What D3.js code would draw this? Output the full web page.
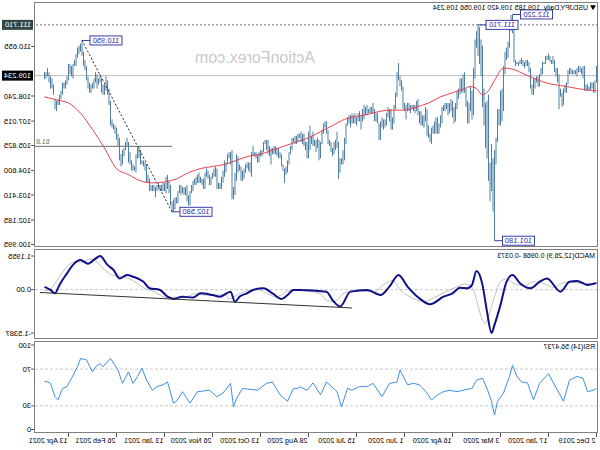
<!DOCTYPE html>
<html><head><meta charset="utf-8">
<script src="https://cdn.jsdelivr.net/npm/d3@7"></script>
<style>body{margin:0;background:#fff}svg{display:block}</style>
</head><body>
<svg id="c" width="600" height="450"></svg>
<script>
// ---------- DATA ----------
const tickBars = [0,32,64,96,128,160,192,224,256,288,320,352];
const tickLabels = ['2 Dec 2019','17 Jan 2020','3 Mar 2020','16 Apr 2020','1 Jun 2020','15 Jul 2020','28 Aug 2020','13 Oct 2020','26 Nov 2020','13 Jan 2021','26 Feb 2021','13 Apr 2021'];
const priceTicks = [110.655,108.240,107.015,105.825,104.600,103.410,102.185,100.995];
const priceLabels = ['110.655','108.240','107.015','105.825','104.600','103.410','102.185','100.995'];
const barHigh = [
109.7,109.0,108.9,108.9,108.9,108.7,108.8,108.8,109.7,109.7,109.6,109.7,109.7,109.6,109.5,109.5,109.5,109.6,109.6,109.5,108.9,
108.8,108.6,108.4,108.6,109.3,109.6,109.6,110.0,110.2,110.0,110.2,110.3,110.2,110.2,109.9,109.9,109.6,109.3,109.2,109.2,109.1,109.1,
108.8,109.6,109.9,110.0,110.0,109.9,110.0,110.1,110.0,109.9,109.9,110.0,111.6,112.22,112.2,111.6,110.9,110.6,110.4,109.7,
108.6,108.5,107.6,107.6,106.2,105.6,105.2,105.9,105.0,108.3,108.0,107.9,108.6,110.7,111.0,111.6,111.71,111.4,111.0,109.6,108.5,108.7,
107.9,108.0,108.6,109.4,109.3,109.1,109.1,108.6,108.5,107.9,107.7,108.0,108.1,107.9,107.9,107.9,107.9,107.8,107.7,107.3,106.9,107.2,
107.2,107.0,106.8,106.7,106.4,106.8,107.6,107.7,107.3,107.3,107.5,107.5,108.1,108.0,107.8,107.8,107.8,107.8,107.9,107.9,107.8,
107.9,108.7,109.0,109.2,109.85,109.4,108.4,107.8,107.2,107.6,107.6,107.7,107.4,107.1,107.1,107.2,107.0,106.9,107.4,107.4,107.6,107.9,
107.7,107.7,107.6,107.8,107.7,107.8,107.6,107.3,107.5,107.4,107.2,107.4,107.3,107.4,107.3,107.3,107.2,106.9,106.2,105.6,105.2,105.2,106.0,
106.5,106.1,106.0,105.7,106.0,106.1,106.6,107.0,107.0,106.9,106.6,106.0,106.1,106.2,106.1,106.1,106.5,106.3,106.8,106.5,106.0,
106.0,106.4,106.4,106.5,106.4,106.4,106.3,106.3,106.2,106.2,105.8,105.5,105.1,104.8,104.7,104.9,105.4,105.5,105.7,105.7,105.8,105.8,
105.7,105.7,105.8,106.1,106.1,106.1,106.0,105.6,105.6,105.5,105.4,105.5,105.5,105.8,105.5,105.0,105.0,105.0,104.9,104.7,104.6,104.8,
104.9,105.3,105.4,104.5,103.8,105.6,105.5,105.5,105.4,105.0,105.1,104.6,104.3,104.0,104.0,104.7,104.8,104.7,104.5,104.3,104.4,
104.6,104.7,104.5,104.2,104.2,104.3,104.5,104.4,104.3,104.2,104.1,103.9,103.6,103.4,103.9,103.8,103.8,103.8,103.9,103.9,103.6,103.3,
103.3,103.2,103.1,103.9,104.1,104.4,104.3,104.0,104.0,103.9,103.9,104.0,103.9,103.8,103.9,103.9,103.9,104.2,104.4,104.9,
105.0,105.1,105.1,105.6,105.8,105.7,105.4,104.8,104.9,105.1,105.5,106.0,106.2,106.0,105.7,105.6,105.4,106.2,106.4,106.7,
106.8,106.9,107.1,108.0,108.6,109.0,109.2,108.8,108.8,109.1,109.3,109.1,109.3,109.4,109.1,108.9,108.8,108.9,109.2,109.7,110.0,110.4,110.95,
110.8,110.7,110.6,110.3,110.0,109.8,109.7,109.8,109.8,109.2,109.0,108.9,108.9,108.5,108.3,108.1,108.0,108.1,108.8,109.1,109.2,109.4,
109.6,109.4,109.42];
const barLow = [
108.9,108.4,108.4,108.6,108.5,108.5,108.5,108.5,108.5,109.1,109.3,109.4,109.4,109.2,109.3,109.3,109.3,109.3,109.3,108.8,108.4,
108.4,107.8,107.7,108.2,107.6,108.9,109.2,109.4,109.8,109.8,109.9,110.0,110.0,109.8,109.8,109.3,109.2,108.7,108.7,108.9,108.6,108.3,
108.3,108.6,109.4,109.7,109.7,109.6,109.7,109.8,109.8,109.7,109.8,109.7,109.9,111.3,111.4,110.6,110.1,110.0,109.3,107.5,
107.0,106.8,106.8,106.0,104.9,101.18,102.6,103.6,103.1,104.1,105.2,105.7,106.8,107.7,109.2,109.8,110.2,110.6,109.1,107.3,107.1,107.5,
106.9,106.9,107.7,108.4,108.4,108.4,108.3,108.1,107.6,107.0,106.9,107.2,107.5,107.4,107.3,107.6,107.5,107.5,106.9,106.7,106.4,106.4,
106.4,106.4,106.4,105.9,106.0,106.2,106.3,107.0,106.7,106.8,106.8,106.9,107.3,107.5,107.4,107.5,107.6,107.4,107.5,107.5,107.1,
107.5,107.6,108.5,108.7,109.0,108.2,107.6,106.9,106.6,106.6,107.0,107.2,106.8,106.7,106.6,106.7,106.1,106.1,106.9,107.0,107.0,107.4,
107.4,107.4,107.4,107.3,107.3,107.1,107.0,106.6,107.0,107.0,106.8,106.9,106.9,106.9,106.7,106.9,106.8,105.9,105.1,104.9,104.9,104.5,104.2,
105.7,105.6,105.4,105.3,105.5,105.8,105.9,106.4,106.7,106.4,105.9,105.2,105.1,105.7,105.5,105.8,105.8,105.9,105.6,105.2,105.2,
105.6,105.8,105.9,106.0,106.2,106.0,105.9,105.9,106.0,105.6,105.4,104.9,104.5,104.4,104.0,104.6,104.8,105.2,105.2,105.3,105.4,105.4,
105.4,104.9,105.3,105.4,105.6,105.9,105.5,105.3,105.3,105.0,105.0,105.2,105.3,105.3,104.3,104.5,104.6,104.7,104.5,104.2,104.1,104.1,
104.6,104.5,104.1,103.4,103.2,103.2,104.9,105.2,104.9,104.5,104.3,104.0,103.7,103.7,103.7,103.7,104.3,104.3,104.2,103.9,103.9,
104.2,104.3,103.7,103.7,103.9,104.0,104.0,104.0,103.9,103.9,103.6,103.5,102.9,102.9,103.1,103.4,103.4,103.5,103.4,103.5,103.0,103.0,
102.7,102.6,102.59,102.9,103.5,103.7,103.5,103.6,103.6,103.6,103.6,103.7,103.6,103.3,103.6,103.6,103.6,103.6,104.0,104.0,
104.6,104.8,104.9,104.9,105.2,105.2,104.5,104.6,104.6,104.6,104.9,105.0,105.8,105.6,105.3,104.9,104.8,105.1,105.8,106.1,
106.4,106.6,106.7,106.8,107.8,108.3,108.5,108.3,108.3,108.4,108.9,108.8,108.6,108.9,108.6,108.6,108.4,108.4,108.6,109.0,109.5,109.7,110.2,
110.4,110.3,110.1,109.7,109.7,109.1,109.2,109.3,109.0,108.8,108.6,108.6,108.3,108.1,107.8,107.8,107.5,107.6,108.3,108.6,108.6,108.9,
109.2,109.1,109.06];
const maBar = [0,8,16,24,32,40,48,56,62,68,72,76,80,84,88,96,104,112,120,128,136,144,152,160,168,176,184,192,200,208,216,224,232,240,248,256,264,272,280,288,296,304,312,320,328,336,344,352,360,368];
const maVal = [108.5,108.55,108.65,108.75,108.85,109.05,109.3,109.55,109.6,109.0,108.5,108.3,108.6,108.7,108.6,108.4,108.2,107.9,107.7,107.55,107.55,107.5,107.35,107.25,107.1,106.8,106.5,106.2,106.0,105.8,105.6,105.4,105.3,105.1,104.9,104.8,104.7,104.5,104.2,104.05,104.0,104.1,104.4,104.7,105.7,106.6,107.4,107.9,108.05,108.2];
const macdBar = [0,6,13,18,24,33,38,44,51,56,60,64,68,70,73,76,80,83,86,91,96,102,111,118,126,132,138,144,153,164,171,176,180,198,202,206,210,216,222,229,233,238,241,244,251,256,264,269,276,282,286,291,298,302,309,313,318,322,326,331,334,339,344,349,353,358,361,364,368];
const macdMain = [0.24,0.17,0.31,0.28,-0.07,0.40,0.28,0.05,0.23,0.52,0.28,-0.54,-1.25,-1.54,-0.78,0.17,0.66,0.17,0.05,0.07,-0.13,-0.25,-0.52,-0.31,0.11,0.52,0.11,-0.19,-0.01,-0.07,-0.60,-0.37,-0.07,-0.01,-0.01,-0.19,-0.33,-0.13,0.05,-0.01,-0.13,-0.25,-0.43,-0.07,-0.25,-0.19,-0.13,-0.28,-0.25,-0.33,-0.25,-0.01,0.05,0.28,0.46,0.52,0.40,0.70,0.88,1.1955,1.10,0.92,1.05,0.88,0.58,0.17,-0.13,-0.01,0.0968];
const sigBar = [0,10,17,22,28,37,42,48,55,60,64,68,72,74,77,80,84,88,95,100,106,115,122,130,136,142,148,157,168,175,180,184,200,206,210,214,220,226,233,237,242,245,248,255,260,268,273,280,286,290,295,302,306,313,317,322,326,330,335,338,343,348,353,357,361,365,368];
const sigVal = [0.22,0.22,0.27,0.25,0.08,0.25,0.28,0.14,0.22,0.38,0.28,-0.25,-0.95,-1.2,-0.95,-0.35,0.15,0.2,0.05,-0.06,-0.22,-0.42,-0.32,-0.05,0.32,0.18,-0.08,-0.05,-0.12,-0.42,-0.38,-0.15,-0.02,-0.05,-0.18,-0.26,-0.12,0.0,-0.04,-0.12,-0.26,-0.32,-0.17,-0.2,-0.2,-0.15,-0.24,-0.26,-0.3,-0.22,-0.06,0.06,0.22,0.42,0.48,0.5,0.62,0.82,1.05,1.08,0.98,0.98,0.82,0.55,0.22,-0.02,-0.0373];
const rsiBar = [0,2,6,9,13,18,22,26,32,38,42,46,50,53,56,58,62,66,68,70,73,76,80,83,89,93,98,102,106,110,113,118,122,126,131,133,138,143,149,153,158,163,166,170,173,180,184,189,193,198,199,202,206,211,216,220,226,236,240,242,244,249,253,258,266,271,276,280,282,286,289,293,296,300,303,306,309,312,316,319,321,324,329,331,334,336,340,344,346,350,353,356,359,361,364,366,368];
const rsiVal = [49,47,45.5,60,62,58,35,47,65,54.5,36.5,55,56,62,74,62,44,35,20,35,49,60,58,49,47,45.5,47,45.5,42,36.5,44,53,54.5,53,69,56,54.5,40,54.5,51,51,47,49,29,45.5,56,42,55,47,51,49,49,35,42,56,54.5,47,49,38,29,54.5,44,40,47,45.5,33,45.5,35,33,56,53,51,47,58,71,62,54.5,67,54.5,69,74,81.5,72.5,76,72.5,67,80,81.5,72.5,60,51,49,36.5,40,54.5,56,56.47];

// ---------- LAYOUT ----------
const svg = d3.select('#c');
const defs = svg.append('defs');
const g = svg.append('g').attr('transform','translate(600,0) scale(-1,1)');
const L = 2, R = 566;
const panels = {main:[2,247], macd:[249,339], rsi:[341,433]};
const FONT = 'Liberation Sans, Arial, sans-serif';

const x = d3.scaleLinear().domain([0, 368]).range([3.5, 3.5 + 368*1.5]);
const yP = d3.scaleLinear().domain([100.995, 110.655]).range([244.5, 46.5]);
const yM = d3.scaleLinear().domain([-1.5387, 1.1955]).range([333, 256]);
const yR = d3.scaleLinear().domain([0, 100]).range([433.5, 341.5]);

Object.entries(panels).forEach(([k,[t,b]])=>{
  defs.append('clipPath').attr('id','clip-'+k).append('rect').attr('x',L).attr('y',t).attr('width',R-L).attr('height',b-t);
});

// watermark
g.append('text').attr('x',345).attr('y',63).attr('text-anchor','middle')
 .attr('font-family',FONT).attr('font-size',16).attr('fill','#c9c9c9').text('ActionForex.com');

// ---------- MAIN PANEL ----------
const main = g.append('g').attr('clip-path','url(#clip-main)');
main.append('line').attr('x1',L).attr('x2',R).attr('y1',yP(109.234)).attr('y2',yP(109.234)).attr('stroke','#bdbdbd');
main.append('line').attr('x1',L).attr('x2',R).attr('y1',yP(111.710)).attr('y2',yP(111.710)).attr('stroke','#777').attr('stroke-dasharray','2,2');
const fibLo = 102.59, fibHi = 110.95, fib618 = fibHi - 0.618*(fibHi-fibLo);
main.append('line').attr('x1',x(283)).attr('x2',R).attr('y1',yP(fib618)).attr('y2',yP(fib618)).attr('stroke','#5f6f6f');
main.append('text').attr('x',R-2).attr('y',yP(fib618)-2).attr('text-anchor','end').attr('font-family',FONT).attr('font-size',7).attr('fill','#5f6f6f').text('61.8');
main.append('g').selectAll('line').data(barHigh).join('line')
  .attr('x1',(d,i)=>x(i)).attr('x2',(d,i)=>x(i))
  .attr('y1',(d,i)=>yP(barLow[i])).attr('y2',d=>yP(d))
  .attr('stroke','#4f80a3').attr('stroke-width',1);
main.append('line').attr('x1',x(283)).attr('y1',yP(fibLo)).attr('x2',x(343)).attr('y2',yP(fibHi))
  .attr('stroke','#222').attr('stroke-dasharray','2,2');
main.append('path').datum(maBar.map((b,i)=>[b,maVal[i]]))
  .attr('d',d3.line().x(d=>x(d[0])).y(d=>yP(d[1])).curve(d3.curveMonotoneX))
  .attr('fill','none').attr('stroke','#e8404a').attr('stroke-width',1);
const notes = [[56,112.22,'112.220'],[79,111.71,'111.710'],[68,101.18,'101.180'],[283,102.59,'102.580'],[343,110.95,'110.950']];
notes.forEach(([b,p,t])=>{
  const px = x(b), py = yP(p);
  const bw = 32, bh = 9;
  main.append('line').attr('x1',px).attr('x2',px-8).attr('y1',py).attr('y2',py).attr('stroke','#3a3aa8');
  main.append('rect').attr('x',px-8-bw).attr('y',py-bh/2).attr('width',bw).attr('height',bh)
    .attr('fill','#fff').attr('stroke','#3a3aa8');
  main.append('text').attr('x',px-8-bw/2).attr('y',py+2.6).attr('text-anchor','middle')
    .attr('font-family',FONT).attr('font-size',7.5).attr('fill','#2a2aa0').text(t);
});
g.append('path').attr('d',d3.symbol(d3.symbolTriangle,14)()).attr('transform','translate(7,7) rotate(180)').attr('fill','#000');
g.append('text').attr('x',12).attr('y',9.5).attr('font-family',FONT).attr('font-size',7).attr('fill','#000')
  .attr('xml:space','preserve').text('USDJPY,Daily  109.185 109.420 109.056 109.234');

// ---------- MACD PANEL ----------
const mac = g.append('g').attr('clip-path','url(#clip-macd)');
mac.append('line').attr('x1',L).attr('x2',R).attr('y1',yM(0)).attr('y2',yM(0)).attr('stroke','#c8c8c8').attr('stroke-dasharray','3,2');
mac.append('path').datum(sigBar.map((b,i)=>[b,sigVal[i]]))
  .attr('d',d3.line().x(d=>x(d[0])).y(d=>yM(d[1])).curve(d3.curveMonotoneX))
  .attr('fill','none').attr('stroke','#c0c0c0').attr('stroke-width',1);
mac.append('path').datum(macdBar.map((b,i)=>[b,macdMain[i]]))
  .attr('d',d3.line().x(d=>x(d[0])).y(d=>yM(d[1])).curve(d3.curveMonotoneX))
  .attr('fill','none').attr('stroke','#10108a').attr('stroke-width',2);
mac.append('line').attr('x1',x(163)).attr('y1',yM(-0.65)).attr('x2',x(371)).attr('y2',yM(-0.10))
  .attr('stroke','#333').attr('stroke-width',1);
g.append('text').attr('x',5).attr('y',258).attr('font-family',FONT).attr('font-size',7).attr('fill','#000')
  .text('MACD(12,26,9) 0.0968 -0.0373');

// ---------- RSI PANEL ----------
const rsi = g.append('g').attr('clip-path','url(#clip-rsi)');
[70,30].forEach(v=>rsi.append('line').attr('x1',L).attr('x2',R).attr('y1',yR(v)).attr('y2',yR(v)).attr('stroke','#c8c8c8').attr('stroke-dasharray','3,2'));
rsi.append('path').datum(rsiBar.map((b,i)=>[b,rsiVal[i]]))
  .attr('d',d3.line().x(d=>x(d[0])).y(d=>yR(d[1])))
  .attr('fill','none').attr('stroke','#3d8fe8').attr('stroke-width',1);
g.append('text').attr('x',5).attr('y',349).attr('font-family',FONT).attr('font-size',7).attr('fill','#000')
  .text('RSI(14) 56.4737');

// ---------- FRAMES & AXES ----------
Object.values(panels).forEach(([t,b])=>{
  g.append('rect').attr('x',L+0.5).attr('y',t+0.5).attr('width',R-L-1).attr('height',b-t-1)
   .attr('fill','none').attr('stroke','#808080');
});
const axisTxt = (y,t)=>{
  g.append('line').attr('x1',R).attr('x2',R+3).attr('y1',y).attr('y2',y).attr('stroke','#555');
  g.append('text').attr('x',R+3).attr('y',y+2.5).attr('font-family',FONT).attr('font-size',7.5).attr('fill','#000').text(t);
};
priceTicks.forEach((p,i)=>axisTxt(yP(p),priceLabels[i]));
[[111.710,'111.710','#304848'],[109.234,'109.234','#000']].forEach(([p,t,c])=>{
  const y=yP(p);
  g.append('rect').attr('x',R+1).attr('y',y-5).attr('width',31).attr('height',10).attr('fill',c);
  g.append('text').attr('x',R+3).attr('y',y+2.6).attr('font-family',FONT).attr('font-size',7.5).attr('fill','#fff').text(t);
});
axisTxt(yM(1.1955),'1.1955'); axisTxt(yM(0),'0.00'); axisTxt(yM(-1.5387),'-1.5387');
[[100,'100'],[70,'70'],[30,'30'],[0,'0']].forEach(([v,t])=>{
  const y = v===100? yR(v)+3.5 : v===0? yR(v)-4 : yR(v);
  axisTxt(y,t);
});
tickBars.forEach((b,i)=>{
  g.append('line').attr('x1',x(b)).attr('x2',x(b)).attr('y1',433).attr('y2',437).attr('stroke','#555');
  g.append('text').attr('x',x(b)+1).attr('y',443).attr('font-family',FONT).attr('font-size',7.2).attr('fill','#000').text(tickLabels[i]);
});
</script>
</body></html>
